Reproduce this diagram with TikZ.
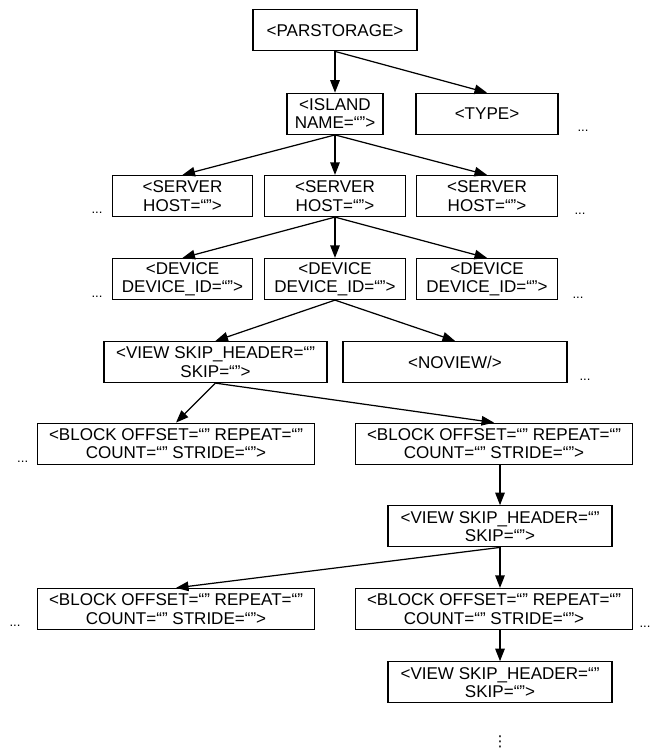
\documentclass[tikz,border=0pt]{standalone}
\usepackage{fontspec}
\setmainfont{Liberation Sans}
\newfontfamily\symfont{DejaVu Sans}
\usetikzlibrary{arrows.meta}

\begin{document}
\begin{tikzpicture}[x=0.02cm, y=-0.02cm,
  tag/.style={draw, line width=0.7pt, align=center, inner sep=0pt, minimum height=0.82cm, font=\fontsize{9.7}{10.4}\selectfont},
  link/.style={-{Triangle[length=0.25cm,width=0.19cm]}, line width=0.7pt},
  more/.style={inner sep=0pt, font=\fontsize{7.5}{8}\selectfont}]
  \useasboundingbox (0,0) rectangle (658,754);

  % tree of tags
  \node[tag, minimum width=3.28cm] (par) at (335,30.3) {<PARSTORAGE>};
  \node[tag, minimum width=1.92cm] (isl) at (335,113.8) {<ISLAND\\NAME=“”>};
  \node[tag, minimum width=2.84cm] (type) at (487,113.8) {<TYPE>};
  \node[tag, minimum width=2.81cm] (srv1) at (182.5,196) {<SERVER\\HOST=“”>};
  \node[tag, minimum width=2.81cm] (srv2) at (335,196) {<SERVER\\HOST=“”>};
  \node[tag, minimum width=2.81cm] (srv3) at (487,196) {<SERVER\\HOST=“”>};
  \node[tag, minimum width=2.81cm] (dev1) at (182.5,279) {<DEVICE\\DEVICE\_ID=“”>};
  \node[tag, minimum width=2.81cm] (dev2) at (335,279) {<DEVICE\\DEVICE\_ID=“”>};
  \node[tag, minimum width=2.81cm] (dev3) at (487,279) {<DEVICE\\DEVICE\_ID=“”>};
  \node[tag, minimum width=4.46cm] (view) at (215.5,362) {<VIEW SKIP\_HEADER=“”\\SKIP=“”>};
  \node[tag, minimum width=4.48cm] (noview) at (455,362) {<NOVIEW/>};
  \node[tag, minimum width=5.53cm] (blk1) at (176,443.7) {<BLOCK OFFSET=“” REPEAT=“”\\COUNT=“” STRIDE=“”>};
  \node[tag, minimum width=5.53cm] (blk2) at (494,443.7) {<BLOCK OFFSET=“” REPEAT=“”\\COUNT=“” STRIDE=“”>};
  \node[tag, minimum width=4.48cm] (view2) at (500,526.3) {<VIEW SKIP\_HEADER=“”\\SKIP=“”>};
  \node[tag, minimum width=5.53cm] (blk3) at (176,609) {<BLOCK OFFSET=“” REPEAT=“”\\COUNT=“” STRIDE=“”>};
  \node[tag, minimum width=5.53cm] (blk4) at (494,609) {<BLOCK OFFSET=“” REPEAT=“”\\COUNT=“” STRIDE=“”>};
  \node[tag, minimum width=4.48cm] (view3) at (500,682.3) {<VIEW SKIP\_HEADER=“”\\SKIP=“”>};

  % elided siblings
  \node[more] (typemore) at (583,131) {...};
  \node[more] (srvmorel) at (97,213) {...};
  \node[more] (srvmorer) at (580,214) {...};
  \node[more] (devmorel) at (97,296.5) {...};
  \node[more] (devmorer) at (578,297.5) {...};
  \node[more] (viewmore) at (585,379.5) {...};
  \node[more] (blkmore) at (22.7,462) {...};
  \node[more] (blkmorel) at (15,626) {...};
  \node[more] (blkmorer) at (645,626.5) {...};
  \node[more, font=\symfont\fontsize{8.5}{9}\selectfont] (deeper) at (500,742) {⋮};

  % links
  \draw[link] (par.south) -- (isl.north);
  \draw[link] (par.south) -- (type.north);
  \draw[link] (isl.south) -- (srv1.north);
  \draw[link] (isl.south) -- (srv2.north);
  \draw[link] (isl.south) -- (srv3.north);
  \draw[link] (srv2.south) -- (dev1.north);
  \draw[link] (srv2.south) -- (dev2.north);
  \draw[link] (srv2.south) -- (dev3.north);
  \draw[link] (dev2.south) -- (view.north);
  \draw[link] (dev2.south) -- (noview.north);
  \draw[link] (view.south) -- (blk1.north);
  \draw[link] (view.south) -- (blk2.north);
  \draw[link] (blk2.south -| view2.north) -- (view2.north);
  \draw[link] (view2.south) -- (blk3.north);
  \draw[link] (view2.south) -- (view2.south |- blk4.north);
  \draw[link] (blk4.south -| view3.north) -- (view3.north);
\end{tikzpicture}
\end{document}
